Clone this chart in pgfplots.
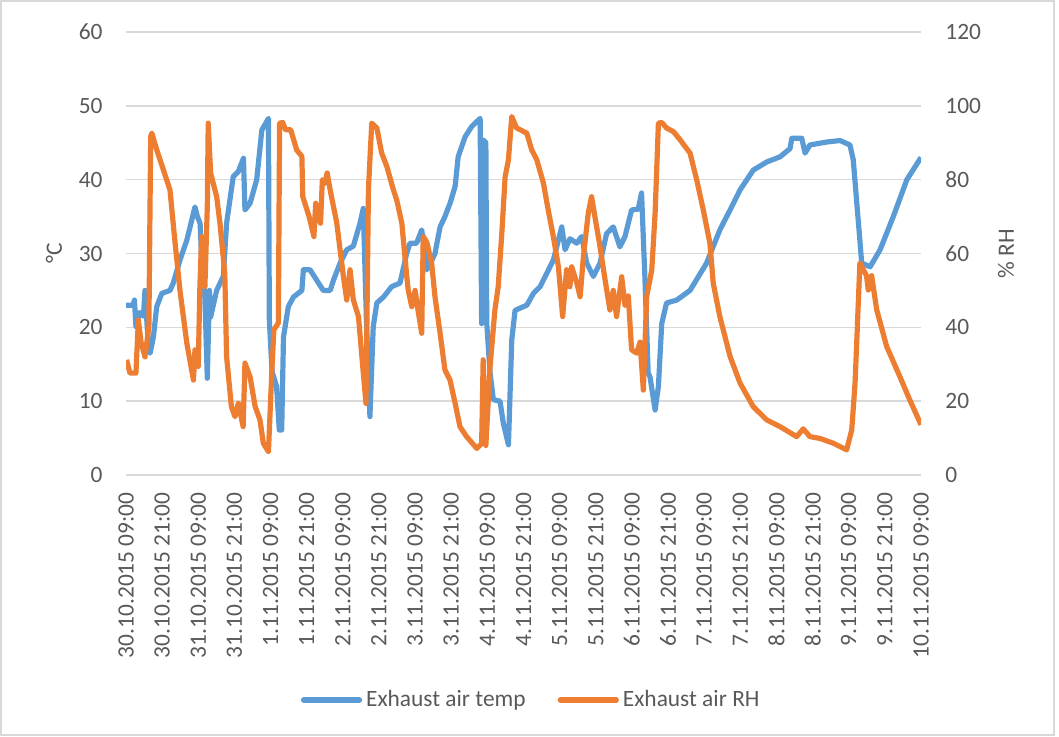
\documentclass[border=0pt]{standalone}
\usepackage{fontspec}
\setmainfont{Carlito}
\usepackage{pgfplots}
\pgfplotsset{compat=1.18}
\usepackage{pgfplotstable}
\definecolor{xlblue}{HTML}{5B9BD5}
\definecolor{xlorange}{HTML}{ED7D31}
\definecolor{gridgray}{HTML}{D9D9D9}
\definecolor{txtgray}{HTML}{595959}

\pgfplotstableread{
h T
0 23.0
2.4 23.0
2.8 23.7
3.3 20.1
4.5 22.0
5.8 21.5
6.3 25.0
7.5 17.0
8.0 16.5
9.1 18.7
10.2 22.8
11.9 24.6
14.6 25.0
15.7 26.0
17.9 29.1
20.2 31.8
22.9 36.3
23.7 35.0
24.6 34.1
25.1 29.6
26.2 24.0
27.0 13.1
27.7 25.0
28.1 21.4
30.1 25.0
32.3 26.9
33.4 34.1
35.6 40.4
37.3 41.1
39.0 42.9
39.5 35.9
41.2 36.8
43.4 40.0
45.1 46.7
47.3 48.3
47.6 21.0
48.5 14.0
50.0 12.0
50.9 6.1
51.7 6.1
52.3 18.7
53.9 22.8
55.6 24.1
58.4 25.0
58.9 27.8
61.1 27.8
63.3 26.4
65.5 25.0
67.8 25.0
68.9 26.4
71.1 28.7
73.3 30.5
75.5 31.0
77.7 34.1
78.8 36.1
79.9 20.1
81.0 7.9
82.1 20.1
83.3 23.3
85.5 24.1
88.2 25.5
91.0 26.0
93.2 30.0
94.3 31.4
96.5 31.4
98.2 33.2
99.9 27.8
100.9 28.5
102.6 30.0
104.3 33.6
105.9 35.0
107.6 36.8
109.3 39.1
110.3 43.1
112.6 45.8
114.8 47.2
117.6 48.3
118.1 20.5
118.6 45.4
119.5 45.0
119.8 20.5
120.9 13.8
122.0 10.2
124.2 10.0
125.3 7.0
127.0 4.1
128.1 18.3
129.2 22.3
133.1 23.0
135.3 24.6
137.5 25.5
139.7 27.3
141.9 29.1
144.7 33.6
145.8 30.5
147.4 32.0
149.7 31.4
151.3 32.3
153.0 28.7
155.2 26.9
157.4 28.7
159.6 32.7
161.8 33.6
164.0 30.9
165.7 32.3
167.9 35.9
170.1 36.0
171.2 38.2
172.3 26.9
173.4 13.8
174.0 13.3
175.7 8.8
176.8 12.0
177.9 20.5
179.5 23.3
182.9 23.7
187.3 25.0
192.8 28.7
197.2 33.2
200.6 35.9
203.9 38.6
208.3 41.3
212.8 42.4
217.2 43.1
220.5 44.2
221.1 45.6
224.4 45.6
225.5 43.6
227.1 44.7
232.7 45.1
237.1 45.3
240.4 44.7
241.5 42.7
242.6 37.2
243.7 31.8
244.3 28.7
247.1 28.2
250.4 30.5
254.8 35.0
259.3 40.0
264.0 43.0
}\temptable

\pgfplotstableread{
h RH
0.2 31.2
1.3 27.6
3.3 27.6
4.1 42.0
5.0 36.0
6.3 32.0
7.6 40.2
8.2 91.7
8.6 92.6
9.5 90.0
10.2 88.1
12.4 82.7
14.6 77.2
16.2 63.7
17.9 50.1
20.2 35.7
22.4 25.7
22.9 33.9
24.0 29.4
24.5 50.0
25.1 64.6
26.2 51.0
27.0 72.7
27.3 95.3
28.1 81.8
30.1 75.4
31.2 68.2
32.8 54.7
33.4 32.1
35.0 18.5
36.2 15.8
37.3 19.4
38.9 13.1
39.5 30.3
41.2 26.6
42.9 18.5
44.5 14.9
45.6 8.6
47.3 6.3
48.4 27.6
49.1 39.3
50.6 41.2
51.0 95.3
52.0 95.5
53.0 93.5
54.7 93.5
56.7 88.0
58.4 86.3
58.7 75.4
60.8 70.0
62.4 64.6
63.0 73.6
64.6 68.2
65.2 80.0
66.0 79.0
66.8 81.8
67.8 77.2
70.0 68.2
72.2 53.7
73.3 47.4
74.4 55.6
75.5 47.4
77.2 42.9
78.8 27.6
79.7 19.4
80.5 77.2
81.6 95.3
83.3 94.0
84.9 87.2
86.6 83.6
88.8 77.2
89.9 74.5
91.6 68.2
92.6 59.2
93.7 50.1
94.9 45.6
96.0 50.0
97.1 44.0
98.2 38.4
98.7 64.6
99.9 63.0
101.5 57.4
102.6 48.3
104.3 38.4
105.9 28.5
107.6 25.7
109.3 19.4
110.9 13.1
113.1 10.4
116.5 7.2
118.1 8.5
118.6 31.2
119.5 8.0
120.9 29.4
122.5 44.7
123.6 51.0
124.8 65.5
125.9 80.8
127.0 85.4
128.1 97.1
129.7 94.0
133.1 92.6
134.7 88.1
136.4 85.4
138.6 79.1
140.2 71.8
141.9 64.6
143.6 56.4
145.0 42.9
146.3 55.6
147.4 51.0
148.0 56.4
149.7 52.0
150.8 48.3
151.9 59.2
153.5 70.9
154.6 75.4
155.7 70.0
157.4 61.9
159.1 52.8
160.7 44.7
161.8 50.0
162.9 42.9
164.6 53.7
165.7 46.0
166.8 48.5
167.9 33.9
169.6 33.0
170.7 36.0
171.8 23.0
172.9 48.3
174.6 55.6
175.7 70.9
176.8 95.3
177.9 95.5
179.5 94.0
181.8 93.0
184.0 90.8
187.3 87.2
189.5 80.0
191.7 71.8
193.9 62.8
195.0 52.0
197.2 42.9
200.6 32.1
203.9 24.9
208.3 18.5
212.8 14.9
217.2 13.1
222.7 10.4
224.9 12.5
227.1 10.4
230.5 9.9
234.9 8.6
239.3 6.8
241.0 12.2
242.1 24.9
242.6 34.8
243.7 57.4
245.9 54.0
246.5 50.1
247.6 54.0
249.3 44.7
252.6 34.8
257.0 26.6
260.3 20.3
264.0 13.6
}\rhtable

\begin{document}
\begin{tikzpicture}
\path[use as bounding box] (-63pt,-131pt) rectangle (466.5pt,237.5pt);
\pgfplotsset{
  common/.style={
    scale only axis, width=397.5pt, height=221.5pt,
    xmin=0, xmax=264, xtick={0,12,...,264},
    axis line style={draw=none}, major tick length=0pt,
    /pgf/number format/assume math mode=true,
    tick label style={font=\fontsize{11.7}{14}\selectfont, text=txtgray},
    label style={font=\fontsize{11.7}{14}\selectfont, text=txtgray},
  }
}
\begin{axis}[common,
  ymin=0, ymax=60, ytick={0,10,...,60},
  ymajorgrids, grid style={draw=gridgray, line width=0.75pt},
  xticklabels={30.10.2015 09:00,30.10.2015 21:00,31.10.2015 09:00,31.10.2015 21:00,1.11.2015 09:00,1.11.2015 21:00,2.11.2015 09:00,2.11.2015 21:00,3.11.2015 09:00,3.11.2015 21:00,4.11.2015 09:00,4.11.2015 21:00,5.11.2015 09:00,5.11.2015 21:00,6.11.2015 09:00,6.11.2015 21:00,7.11.2015 09:00,7.11.2015 21:00,8.11.2015 09:00,8.11.2015 21:00,9.11.2015 09:00,9.11.2015 21:00,10.11.2015 09:00},
  xticklabel style={rotate=90, anchor=east, inner sep=0pt},
  xticklabel shift=8.5pt,
  yticklabel style={inner xsep=0pt},
  yticklabel shift=11.5pt,
  ylabel={°C},
  ylabel style={at={(axis description cs:-0.0906,0.5)}, anchor=center},
]
\addplot[xlblue, line width=2.6pt, line join=round] table[x=h, y=T] {\temptable};
\end{axis}
\begin{axis}[common,
  ymin=0, ymax=120, ytick={0,20,...,120},
  axis y line*=right, axis x line=none,
  yticklabel style={inner xsep=0pt},
  yticklabel shift=12pt,
  ylabel={\% RH},
  ylabel style={at={(axis description cs:1.107,0.5)}, anchor=center},
  legend style={at={(0.511,-0.508)}, anchor=center, draw=none, fill=none,
    legend columns=2, font=\fontsize{11.7}{14}\selectfont, text=txtgray,
    /tikz/every even column/.append style={column sep=14pt}},
  legend image code/.code={\draw[#1, line width=2.6pt, line cap=round] (0pt,0pt) -- (28pt,0pt);},
]
\addlegendimage{xlblue}
\addlegendentry{Exhaust air temp}
\addplot[xlorange, line width=2.6pt, line join=round] table[x=h, y=RH] {\rhtable};
\addlegendentry{Exhaust air RH}
\end{axis}
\draw[gridgray, line width=0.75pt] (-62.6pt,-130pt) rectangle (464pt,237.1pt);
\end{tikzpicture}
\end{document}
